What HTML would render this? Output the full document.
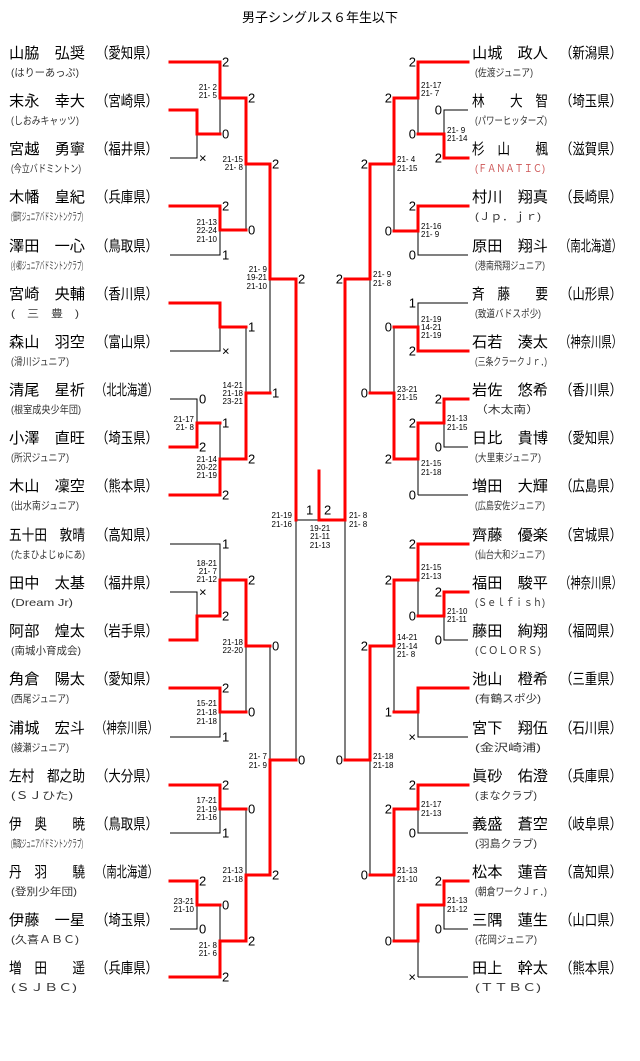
<!DOCTYPE html>
<html><head><meta charset="utf-8">
<style>
html,body{margin:0;padding:0;background:#fff;}
svg{display:block;font-family:"Liberation Sans","Noto Sans CJK JP",sans-serif;}
.r{stroke:#ff0000;stroke-width:3;fill:none;stroke-linejoin:miter;stroke-linecap:square}
.b{stroke:#000;stroke-width:1;fill:none}
.n{font-size:15px;fill:#000}
.s{font-size:10.5px;fill:#333}
.g{font-size:13px;fill:#000;dominant-baseline:central}
.sc{font-size:8px;fill:#000}
.sl text{text-anchor:end}
</style></head><body>
<svg width="640" height="1061" viewBox="0 0 640 1061" xmlns="http://www.w3.org/2000/svg">
<text x="320" y="22" text-anchor="middle" font-size="13">男子シングルス６年生以下</text>

<!-- LEFT NAMES -->
<g class="n">
<text x="9" y="58" textLength="76" lengthAdjust="spacingAndGlyphs">山脇　弘奨</text><text x="96" y="58" textLength="62" lengthAdjust="spacingAndGlyphs">（愛知県）</text>
<text x="9" y="106" textLength="76" lengthAdjust="spacingAndGlyphs">末永　幸大</text><text x="96" y="106" textLength="62" lengthAdjust="spacingAndGlyphs">（宮崎県）</text>
<text x="9" y="154" textLength="76" lengthAdjust="spacingAndGlyphs">宮越　勇寧</text><text x="96" y="154" textLength="62" lengthAdjust="spacingAndGlyphs">（福井県）</text>
<text x="9" y="202" textLength="76" lengthAdjust="spacingAndGlyphs">木幡　皇紀</text><text x="96" y="202" textLength="62" lengthAdjust="spacingAndGlyphs">（兵庫県）</text>
<text x="9" y="251" textLength="76" lengthAdjust="spacingAndGlyphs">澤田　一心</text><text x="96" y="251" textLength="62" lengthAdjust="spacingAndGlyphs">（鳥取県）</text>
<text x="9" y="299" textLength="76" lengthAdjust="spacingAndGlyphs">宮崎　央輔</text><text x="96" y="299" textLength="62" lengthAdjust="spacingAndGlyphs">（香川県）</text>
<text x="9" y="347" textLength="76" lengthAdjust="spacingAndGlyphs">森山　羽空</text><text x="96" y="347" textLength="62" lengthAdjust="spacingAndGlyphs">（富山県）</text>
<text x="9" y="395" textLength="76" lengthAdjust="spacingAndGlyphs">清尾　星祈</text><text x="96" y="395" textLength="62" lengthAdjust="spacingAndGlyphs">（北北海道）</text>
<text x="9" y="443" textLength="76" lengthAdjust="spacingAndGlyphs">小澤　直旺</text><text x="96" y="443" textLength="62" lengthAdjust="spacingAndGlyphs">（埼玉県）</text>
<text x="9" y="491" textLength="76" lengthAdjust="spacingAndGlyphs">木山　凜空</text><text x="96" y="491" textLength="62" lengthAdjust="spacingAndGlyphs">（熊本県）</text>
<text x="9" y="540" textLength="76" lengthAdjust="spacingAndGlyphs">五十田　敦晴</text><text x="96" y="540" textLength="62" lengthAdjust="spacingAndGlyphs">（高知県）</text>
<text x="9" y="588" textLength="76" lengthAdjust="spacingAndGlyphs">田中　太基</text><text x="96" y="588" textLength="62" lengthAdjust="spacingAndGlyphs">（福井県）</text>
<text x="9" y="636" textLength="76" lengthAdjust="spacingAndGlyphs">阿部　煌太</text><text x="96" y="636" textLength="62" lengthAdjust="spacingAndGlyphs">（岩手県）</text>
<text x="9" y="684" textLength="76" lengthAdjust="spacingAndGlyphs">角倉　陽太</text><text x="96" y="684" textLength="62" lengthAdjust="spacingAndGlyphs">（愛知県）</text>
<text x="9" y="733" textLength="76" lengthAdjust="spacingAndGlyphs">浦城　宏斗</text><text x="96" y="733" textLength="62" lengthAdjust="spacingAndGlyphs">（神奈川県）</text>
<text x="9" y="781" textLength="76" lengthAdjust="spacingAndGlyphs">左村　都之助</text><text x="96" y="781" textLength="62" lengthAdjust="spacingAndGlyphs">（大分県）</text>
<text x="9" y="829" textLength="76" lengthAdjust="spacingAndGlyphs">伊　奥　　暁</text><text x="96" y="829" textLength="62" lengthAdjust="spacingAndGlyphs">（鳥取県）</text>
<text x="9" y="877" textLength="76" lengthAdjust="spacingAndGlyphs">丹　羽　　驍</text><text x="96" y="877" textLength="62" lengthAdjust="spacingAndGlyphs">（南北海道）</text>
<text x="9" y="925" textLength="76" lengthAdjust="spacingAndGlyphs">伊藤　一星</text><text x="96" y="925" textLength="62" lengthAdjust="spacingAndGlyphs">（埼玉県）</text>
<text x="9" y="973" textLength="76" lengthAdjust="spacingAndGlyphs">増　田　　遥</text><text x="96" y="973" textLength="62" lengthAdjust="spacingAndGlyphs">（兵庫県）</text>
</g>
<g class="s">
<text x="11" y="76" textLength="68" lengthAdjust="spacingAndGlyphs">(はりーあっぷ)</text>
<text x="11" y="124" textLength="68" lengthAdjust="spacingAndGlyphs">(しおみキャッツ)</text>
<text x="11" y="172" textLength="70" lengthAdjust="spacingAndGlyphs">(今立バドミントン)</text>
<text x="11" y="220" textLength="72" lengthAdjust="spacingAndGlyphs">(佃町ジュニアバドミントンクラブ)</text>
<text x="11" y="269" textLength="72" lengthAdjust="spacingAndGlyphs">(小郷ジュニアバドミントンクラブ)</text>
<text x="11" y="317" textLength="68" lengthAdjust="spacingAndGlyphs">(　三　豊　)</text>
<text x="11" y="365" textLength="58" lengthAdjust="spacingAndGlyphs">(滑川ジュニア)</text>
<text x="11" y="413" textLength="70" lengthAdjust="spacingAndGlyphs">(根室成央少年団)</text>
<text x="11" y="461" textLength="58" lengthAdjust="spacingAndGlyphs">(所沢ジュニア)</text>
<text x="11" y="509" textLength="68" lengthAdjust="spacingAndGlyphs">(出水南ジュニア)</text>
<text x="11" y="558" textLength="74" lengthAdjust="spacingAndGlyphs">(たまひよじゅにあ)</text>
<text x="11" y="606" textLength="62" lengthAdjust="spacingAndGlyphs">(Dream Jr)</text>
<text x="11" y="654" textLength="70" lengthAdjust="spacingAndGlyphs">(南城小育成会)</text>
<text x="11" y="702" textLength="58" lengthAdjust="spacingAndGlyphs">(西尾ジュニア)</text>
<text x="11" y="751" textLength="58" lengthAdjust="spacingAndGlyphs">(綾瀬ジュニア)</text>
<text x="11" y="799" textLength="62" lengthAdjust="spacingAndGlyphs">(ＳＪひた)</text>
<text x="11" y="847" textLength="72" lengthAdjust="spacingAndGlyphs">(鳥取ジュニアバドミントンクラブ)</text>
<text x="11" y="895" textLength="66" lengthAdjust="spacingAndGlyphs">(登別少年団)</text>
<text x="11" y="943" textLength="68" lengthAdjust="spacingAndGlyphs">(久喜ＡＢＣ)</text>
<text x="11" y="991" textLength="66" lengthAdjust="spacingAndGlyphs">(ＳＪＢＣ)</text>
</g>

<!-- RIGHT NAMES -->
<g class="n">
<text x="472" y="58" textLength="76" lengthAdjust="spacingAndGlyphs">山城　政人</text><text x="560" y="58" textLength="62" lengthAdjust="spacingAndGlyphs">（新潟県）</text>
<text x="472" y="106" textLength="76" lengthAdjust="spacingAndGlyphs">林　　大　智</text><text x="560" y="106" textLength="62" lengthAdjust="spacingAndGlyphs">（埼玉県）</text>
<text x="472" y="154" textLength="76" lengthAdjust="spacingAndGlyphs">杉　山　　楓</text><text x="560" y="154" textLength="62" lengthAdjust="spacingAndGlyphs">（滋賀県）</text>
<text x="472" y="202" textLength="76" lengthAdjust="spacingAndGlyphs">村川　翔真</text><text x="560" y="202" textLength="62" lengthAdjust="spacingAndGlyphs">（長崎県）</text>
<text x="472" y="251" textLength="76" lengthAdjust="spacingAndGlyphs">原田　翔斗</text><text x="560" y="251" textLength="62" lengthAdjust="spacingAndGlyphs">（南北海道）</text>
<text x="472" y="299" textLength="76" lengthAdjust="spacingAndGlyphs">斉　藤　　要</text><text x="560" y="299" textLength="62" lengthAdjust="spacingAndGlyphs">（山形県）</text>
<text x="472" y="347" textLength="76" lengthAdjust="spacingAndGlyphs">石若　湊太</text><text x="560" y="347" textLength="62" lengthAdjust="spacingAndGlyphs">（神奈川県）</text>
<text x="472" y="395" textLength="76" lengthAdjust="spacingAndGlyphs">岩佐　悠希</text><text x="560" y="395" textLength="62" lengthAdjust="spacingAndGlyphs">（香川県）</text>
<text x="472" y="443" textLength="76" lengthAdjust="spacingAndGlyphs">日比　貴博</text><text x="560" y="443" textLength="62" lengthAdjust="spacingAndGlyphs">（愛知県）</text>
<text x="472" y="491" textLength="76" lengthAdjust="spacingAndGlyphs">増田　大輝</text><text x="560" y="491" textLength="62" lengthAdjust="spacingAndGlyphs">（広島県）</text>
<text x="472" y="540" textLength="76" lengthAdjust="spacingAndGlyphs">齊藤　優楽</text><text x="560" y="540" textLength="62" lengthAdjust="spacingAndGlyphs">（宮城県）</text>
<text x="472" y="588" textLength="76" lengthAdjust="spacingAndGlyphs">福田　駿平</text><text x="560" y="588" textLength="62" lengthAdjust="spacingAndGlyphs">（神奈川県）</text>
<text x="472" y="636" textLength="76" lengthAdjust="spacingAndGlyphs">藤田　絢翔</text><text x="560" y="636" textLength="62" lengthAdjust="spacingAndGlyphs">（福岡県）</text>
<text x="472" y="684" textLength="76" lengthAdjust="spacingAndGlyphs">池山　橙希</text><text x="560" y="684" textLength="62" lengthAdjust="spacingAndGlyphs">（三重県）</text>
<text x="472" y="733" textLength="76" lengthAdjust="spacingAndGlyphs">宮下　翔伍</text><text x="560" y="733" textLength="62" lengthAdjust="spacingAndGlyphs">（石川県）</text>
<text x="472" y="781" textLength="76" lengthAdjust="spacingAndGlyphs">眞砂　佑澄</text><text x="560" y="781" textLength="62" lengthAdjust="spacingAndGlyphs">（兵庫県）</text>
<text x="472" y="829" textLength="76" lengthAdjust="spacingAndGlyphs">義盛　蒼空</text><text x="560" y="829" textLength="62" lengthAdjust="spacingAndGlyphs">（岐阜県）</text>
<text x="472" y="877" textLength="76" lengthAdjust="spacingAndGlyphs">松本　蓮音</text><text x="560" y="877" textLength="62" lengthAdjust="spacingAndGlyphs">（高知県）</text>
<text x="472" y="925" textLength="76" lengthAdjust="spacingAndGlyphs">三隅　蓮生</text><text x="560" y="925" textLength="62" lengthAdjust="spacingAndGlyphs">（山口県）</text>
<text x="472" y="973" textLength="76" lengthAdjust="spacingAndGlyphs">田上　幹太</text><text x="560" y="973" textLength="62" lengthAdjust="spacingAndGlyphs">（熊本県）</text>
</g>
<g class="s">
<text x="475" y="76" textLength="58" lengthAdjust="spacingAndGlyphs">(佐渡ジュニア)</text>
<text x="475" y="124" textLength="72" lengthAdjust="spacingAndGlyphs">(パワーヒッターズ)</text>
<text x="475" y="172" textLength="70" lengthAdjust="spacingAndGlyphs" fill="#c55">(ＦＡＮＡＴＩＣ)</text>
<text x="475" y="220" textLength="66" lengthAdjust="spacingAndGlyphs">(Ｊｐ．ｊｒ)</text>
<text x="475" y="269" textLength="70" lengthAdjust="spacingAndGlyphs">(港南飛翔ジュニア)</text>
<text x="475" y="317" textLength="66" lengthAdjust="spacingAndGlyphs">(致道バドスポ少)</text>
<text x="475" y="365" textLength="72" lengthAdjust="spacingAndGlyphs">(三条クラークＪｒ．)</text>
<text x="475" y="413" textLength="64" lengthAdjust="spacingAndGlyphs">（木太南）</text>
<text x="475" y="461" textLength="66" lengthAdjust="spacingAndGlyphs">(大里東ジュニア)</text>
<text x="475" y="509" textLength="70" lengthAdjust="spacingAndGlyphs">(広島安佐ジュニア)</text>
<text x="475" y="558" textLength="70" lengthAdjust="spacingAndGlyphs">(仙台大和ジュニア)</text>
<text x="475" y="606" textLength="70" lengthAdjust="spacingAndGlyphs">(Ｓｅｌｆｉｓｈ)</text>
<text x="475" y="654" textLength="66" lengthAdjust="spacingAndGlyphs">(ＣＯＬＯＲＳ)</text>
<text x="475" y="702" textLength="66" lengthAdjust="spacingAndGlyphs">(有鶴スポ少)</text>
<text x="475" y="751" textLength="66" lengthAdjust="spacingAndGlyphs">(金沢崎浦)</text>
<text x="475" y="799" textLength="62" lengthAdjust="spacingAndGlyphs">(まなクラブ)</text>
<text x="475" y="847" textLength="62" lengthAdjust="spacingAndGlyphs">(羽島クラブ)</text>
<text x="475" y="895" textLength="72" lengthAdjust="spacingAndGlyphs">(朝倉ワークＪｒ．)</text>
<text x="475" y="943" textLength="62" lengthAdjust="spacingAndGlyphs">(花岡ジュニア)</text>
<text x="475" y="991" textLength="66" lengthAdjust="spacingAndGlyphs">(ＴＴＢＣ)</text>
</g>

<!-- LEFT LINES -->
<path class="b" d="M170 158H197V134 M220 98V134 M170 255H220V230 M246 164V230 M270 279V393
M170 351H220V327 M246 327V393 M170 399H197V423 M220 423V459
M296 520V760 M345 520V760 M296 520H319
M170 544H220V580 M170 592H197V616 M246 646V712 M170 737H220V712 M270 646V760
M170 833H220V809 M246 809V875 M170 929H197V905 M220 905V941"/>
<path class="r" d="M170 62H220V98H246V164H270V279H296V520
M170 110H197V134H220 M170 206H220V230H246
M170 303H220V327H246 M170 447H197V423H220 M170 495H220V459H246V393H270
M319 471V520H345V279H370
M170 640H197V616H220V580H246V646H270 M170 688H220V712H246
M270 760H296 M170 785H220V809H246 M246 875H270V760 M170 881H197V905H220 M170 977H220V941H246V875"/>

<!-- RIGHT LINES -->
<path class="b" d="M468 110H444V134 M418 98V134 M394 164V231 M468 255H418V231 M370 279V393
M468 303H418V327 M394 327V393 M468 447H444V423 M418 459V495 M468 495H418
M418 580V616 M468 640H444V616 M394 646V712 M468 737H418V712 M370 760V875
M468 833H418V809 M394 875V941 M468 929H444V905 M418 941V977 M468 977H418"/>
<path class="r" d="M468 62H418V98H394V164H370V279H345
M468 158H444V134H418 M468 206H418V231H394
M468 351H418V327H394 M370 393H394V459H418V423H444V399H468
M468 544H418V580H394V646H370V760H345 M468 592H444V616H418 M468 688H418V712H394
M468 785H418V809H394V875H370 M394 941H418V905H444V881H468"/>

<!-- GAME COUNTS LEFT -->
<g class="g">
<text x="222" y="62">2</text><text x="222" y="134">0</text><text x="199" y="158">×</text>
<text x="248" y="98">2</text><text x="222" y="206">2</text><text x="222" y="255">1</text><text x="248" y="230">0</text>
<text x="272" y="164">2</text><text x="298" y="279">2</text>
<text x="248" y="327">1</text><text x="222" y="351">×</text><text x="272" y="393">1</text>
<text x="199" y="399">0</text><text x="199" y="447">2</text><text x="222" y="423">1</text>
<text x="248" y="459">2</text><text x="222" y="495">2</text>
<text x="306" y="510">1</text><text x="324" y="510">2</text>
<text x="222" y="544">1</text><text x="199" y="592">×</text><text x="222" y="616">2</text><text x="248" y="580">2</text>
<text x="222" y="688">2</text><text x="248" y="712">0</text><text x="222" y="737">1</text><text x="272" y="646">0</text>
<text x="298" y="760">0</text>
<text x="222" y="785">2</text><text x="248" y="809">0</text><text x="222" y="833">1</text><text x="272" y="875">2</text>
<text x="199" y="881">2</text><text x="222" y="905">0</text><text x="199" y="929">0</text><text x="248" y="941">2</text><text x="222" y="977">2</text>
</g>
<!-- GAME COUNTS RIGHT -->
<g class="g" text-anchor="end">
<text x="416" y="62">2</text><text x="442" y="110">0</text><text x="442" y="158">2</text><text x="416" y="134">0</text>
<text x="392" y="98">2</text><text x="368" y="164">2</text><text x="416" y="206">2</text><text x="392" y="231">0</text><text x="416" y="255">0</text>
<text x="343" y="279">2</text>
<text x="416" y="303">1</text><text x="416" y="351">2</text><text x="392" y="327">0</text><text x="368" y="393">0</text>
<text x="442" y="399">2</text><text x="416" y="423">2</text><text x="442" y="447">0</text><text x="392" y="459">2</text><text x="416" y="495">0</text>
<text x="416" y="544">2</text><text x="392" y="580">2</text><text x="442" y="592">2</text><text x="416" y="616">0</text><text x="442" y="640">0</text>
<text x="368" y="646">2</text><text x="392" y="712">1</text><text x="416" y="737">×</text><text x="343" y="760">0</text>
<text x="416" y="785">2</text><text x="392" y="809">2</text><text x="416" y="833">0</text><text x="368" y="875">0</text>
<text x="442" y="881">2</text><text x="442" y="929">0</text><text x="392" y="941">0</text><text x="416" y="977">×</text>
</g>

<!-- SCORES LEFT -->
<g class="sc" text-anchor="end">
<text x="217" y="90">21- 2</text><text x="217" y="98">21- 5</text>
<text x="217" y="225">21-13</text><text x="217" y="233">22-24</text><text x="217" y="242">21-10</text>
<text x="243" y="162">21-15</text><text x="243" y="170">21- 8</text>
<text x="267" y="272">21- 9</text><text x="267" y="280">19-21</text><text x="267" y="289">21-10</text>
<text x="243" y="388">14-21</text><text x="243" y="396">21-18</text><text x="243" y="404">23-21</text>
<text x="194" y="422">21-17</text><text x="194" y="430">21- 8</text>
<text x="217" y="462">21-14</text><text x="217" y="470">20-22</text><text x="217" y="478">21-19</text>
<text x="292" y="518">21-19</text><text x="292" y="527">21-16</text>
<text x="217" y="566">18-21</text><text x="217" y="574">21- 7</text><text x="217" y="582">21-12</text>
<text x="217" y="706">15-21</text><text x="217" y="715">21-18</text><text x="217" y="724">21-18</text>
<text x="243" y="645">21-18</text><text x="243" y="653">22-20</text>
<text x="267" y="759">21- 7</text><text x="267" y="768">21- 9</text>
<text x="217" y="803">17-21</text><text x="217" y="812">21-19</text><text x="217" y="820">21-16</text>
<text x="243" y="873">21-13</text><text x="243" y="882">21-18</text>
<text x="194" y="904">23-21</text><text x="194" y="912">21-10</text>
<text x="217" y="948">21- 8</text><text x="217" y="956">21- 6</text>
</g>
<g class="sc" text-anchor="middle">
<text x="320" y="531">19-21</text><text x="320" y="539">21-11</text><text x="320" y="548">21-13</text>
</g>
<!-- SCORES RIGHT -->
<g class="sc">
<text x="349" y="518">21- 8</text><text x="349" y="527">21- 8</text>
<text x="421" y="88">21-17</text><text x="421" y="96">21- 7</text>
<text x="447" y="133">21- 9</text><text x="447" y="141">21-14</text>
<text x="397" y="162">21- 4</text><text x="397" y="171">21-15</text>
<text x="421" y="229">21-16</text><text x="421" y="237">21- 9</text>
<text x="373" y="277">21- 9</text><text x="373" y="286">21- 8</text>
<text x="421" y="322">21-19</text><text x="421" y="330">14-21</text><text x="421" y="338">21-19</text>
<text x="397" y="392">23-21</text><text x="397" y="400">21-15</text>
<text x="447" y="421">21-13</text><text x="447" y="430">21-15</text>
<text x="421" y="466">21-15</text><text x="421" y="475">21-18</text>
<text x="421" y="570">21-15</text><text x="421" y="579">21-13</text>
<text x="447" y="614">21-10</text><text x="447" y="622">21-11</text>
<text x="397" y="640">14-21</text><text x="397" y="649">21-14</text><text x="397" y="657">21- 8</text>
<text x="373" y="759">21-18</text><text x="373" y="768">21-18</text>
<text x="421" y="807">21-17</text><text x="421" y="816">21-13</text>
<text x="397" y="873">21-13</text><text x="397" y="882">21-10</text>
<text x="447" y="903">21-13</text><text x="447" y="912">21-12</text>
</g>
</svg>
</body></html>
